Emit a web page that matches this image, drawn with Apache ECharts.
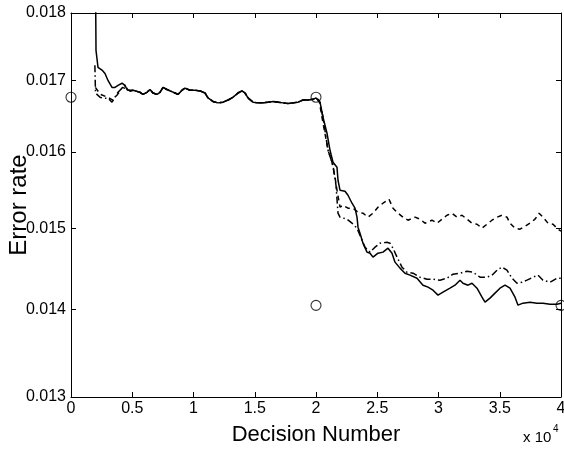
<!DOCTYPE html>
<html>
<head>
<meta charset="utf-8">
<script src="https://cdn.jsdelivr.net/npm/echarts@6/dist/echarts.min.js"></script>
<style>
  html, body { margin: 0; padding: 0; background: #fff; }
  #chart { width: 564px; height: 450px; }
</style>
</head>
<body>
<div id="chart"></div>
<script>
// Tick values
const xTicks = [0, 5000, 10000, 15000, 20000, 25000, 30000, 35000, 40000];
const yTicks = [0.013, 0.014, 0.015, 0.016, 0.017, 0.018];

// Shared stretch where all three estimators coincide: [decision number, error rate]
const plateau = [
  [4816, 0.01685], [5061, 0.01686], [5633, 0.01683], [5878, 0.01680], [6204, 0.01683],
  [6449, 0.01687], [6694, 0.01682], [7020, 0.01680], [7265, 0.01683], [7510, 0.01690],
  [7837, 0.01687], [8082, 0.01685], [8490, 0.01682], [8735, 0.01680], [9061, 0.01686],
  [9306, 0.01689], [9714, 0.01686], [10122, 0.01686], [10531, 0.01685], [10939, 0.01682],
  [11184, 0.01675], [11592, 0.01670], [12000, 0.01668], [12408, 0.01669], [12816, 0.01672],
  [13224, 0.01676], [13633, 0.01682], [13959, 0.01685], [14204, 0.01682], [14449, 0.01675],
  [14857, 0.01669], [15265, 0.01668], [15673, 0.01668], [16082, 0.01669], [16490, 0.01670],
  [16898, 0.01669], [17306, 0.01668], [17714, 0.01667], [18122, 0.01668], [18531, 0.01669],
  [18939, 0.01672], [19347, 0.01672], [19755, 0.01673], [20000, 0.01675]
];

// Solid curve
const solidStart = [
  [1950, 0.0200], [2041, 0.01744], [2204, 0.01719], [2531, 0.01715], [2776, 0.01710],
  [3020, 0.01700], [3347, 0.01690], [3592, 0.01690], [3837, 0.01693], [4163, 0.01696],
  [4408, 0.01693], [4571, 0.01687]
];
const solidEnd = [
  [20327, 0.01669], [20571, 0.016478], [20898, 0.016256], [21143, 0.016023], [21388, 0.015861],
  [21714, 0.015794], [21796, 0.015621], [21959, 0.015490], [22367, 0.015477], [22612, 0.015424],
  [22939, 0.015320], [23184, 0.015256], [23347, 0.015140], [23429, 0.015012], [23592, 0.014936],
  [23837, 0.014810], [24163, 0.014698], [24408, 0.014685], [24653, 0.014636], [25061, 0.014685],
  [25469, 0.014698], [25878, 0.014747], [26204, 0.014685], [26449, 0.014574], [26857, 0.014500],
  [27265, 0.014438], [27673, 0.014414], [28245, 0.014377], [28735, 0.014292], [29143, 0.014268],
  [29551, 0.014232], [29959, 0.014172], [30367, 0.014208], [30939, 0.014256], [31347, 0.014292],
  [31755, 0.014353], [32000, 0.014316], [32408, 0.014292], [32735, 0.014316], [33143, 0.014256],
  [33551, 0.014148], [33796, 0.014088], [34204, 0.014136], [34612, 0.014196], [35020, 0.014256],
  [35429, 0.014292], [35837, 0.014256], [36245, 0.014148], [36490, 0.014052], [36898, 0.014076],
  [37469, 0.014088], [38041, 0.014076], [38531, 0.014076], [39102, 0.014064], [39673, 0.014064],
  [40000, 0.014076]
];

// Dashed curve
const dashedStart = [
  [1990, 0.01690], [2400, 0.01680], [3000, 0.01676], [3400, 0.01672], [3800, 0.01680],
  [4200, 0.01690], [4500, 0.01688]
];
const dashedEnd = [
  [20245, 0.01672], [20490, 0.016478], [20980, 0.016023], [21306, 0.015861], [21551, 0.015661],
  [21714, 0.015490], [21959, 0.015269], [22204, 0.015294], [22612, 0.015256], [23020, 0.015256],
  [23429, 0.015204], [23837, 0.015191], [24245, 0.015140], [24653, 0.015191], [25061, 0.015269],
  [25469, 0.015320], [25959, 0.015372], [26286, 0.015256], [26694, 0.015191], [27102, 0.015140],
  [27510, 0.015101], [28082, 0.015140], [28490, 0.015114], [28898, 0.015063], [29469, 0.015101],
  [29878, 0.015063], [30286, 0.015114], [30694, 0.015165], [31102, 0.015191], [31510, 0.015140],
  [31918, 0.015165], [32327, 0.015114], [32735, 0.015063], [33143, 0.015050], [33551, 0.014999],
  [33959, 0.015050], [34367, 0.015101], [34776, 0.015140], [35184, 0.015165], [35592, 0.015140],
  [35837, 0.015063], [36245, 0.014999], [36653, 0.014987], [37061, 0.015025], [37469, 0.015063],
  [37878, 0.015114], [38204, 0.015191], [38531, 0.015140], [38939, 0.015063], [39347, 0.015050],
  [39755, 0.014987], [40000, 0.014961]
];

// Dash-dot curve
const dashDotStart = [
  [1950, 0.01722], [2000, 0.01682], [2367, 0.01676], [2612, 0.016746], [3020, 0.016746],
  [3347, 0.016689], [3592, 0.01676], [3837, 0.016831], [4163, 0.016888], [4408, 0.016931],
  [4653, 0.016859]
];
const dashDotEnd = [
  [20327, 0.01669], [20571, 0.016478], [20980, 0.016023], [21388, 0.015821], [21633, 0.015555],
  [21796, 0.015191], [21959, 0.015140], [22531, 0.015114], [22939, 0.015063], [23347, 0.014999],
  [23755, 0.014848], [24000, 0.014760], [24408, 0.014698], [24816, 0.014760], [25224, 0.014810],
  [25796, 0.014822], [26041, 0.014810], [26286, 0.014747], [26612, 0.014636], [27020, 0.014512],
  [27429, 0.014450], [27918, 0.014438], [28490, 0.014389], [29061, 0.014365], [29551, 0.014365],
  [30122, 0.014353], [30694, 0.014377], [31184, 0.014426], [31755, 0.014438], [32327, 0.014463],
  [32816, 0.014450], [33388, 0.014389], [33959, 0.014389], [34367, 0.014414], [34776, 0.014475],
  [35184, 0.014512], [35592, 0.014475], [36000, 0.014377], [36408, 0.014316], [36816, 0.014328],
  [37224, 0.014353], [37714, 0.014389], [38122, 0.014414], [38531, 0.014353], [39102, 0.014328],
  [39673, 0.014377], [40000, 0.014377]
];

// Marked reference points (open circles)
const markers = [[0, 0.01676], [20000, 0.01676], [20000, 0.01405], [40000, 0.01405]];

const FONT = 'Liberation Sans, Arial, Helvetica, sans-serif';
const INK = '#000';

const chart = echarts.init(document.getElementById('chart'), null, { renderer: 'canvas' });

const boxAxisLine = { show: true, onZero: false, lineStyle: { color: INK, width: 1 } };
const innerTick = { show: true, inside: true, length: 5, lineStyle: { color: INK, width: 1 } };

chart.setOption({
  animation: false,
  backgroundColor: '#fff',
  grid: { left: 71, right: 3, top: 13, bottom: 53, containLabel: false, outerBoundsMode: 'none' },
  xAxis: [
    {
      type: 'value', min: 0, max: 40000, interval: 5000, position: 'bottom',
      axisLine: boxAxisLine, axisTick: innerTick, splitLine: { show: false },
      axisLabel: {
        color: INK, fontFamily: FONT, fontSize: 16, margin: 4,
        formatter: v => String(v / 10000)
      },
      name: 'Decision Number', nameLocation: 'middle', nameGap: 27, nameMoveOverlap: false,
      nameTextStyle: { color: INK, fontFamily: FONT, fontSize: 22 }
    },
    {
      type: 'value', min: 0, max: 40000, interval: 5000, position: 'top',
      axisLine: boxAxisLine, axisTick: innerTick, splitLine: { show: false },
      axisLabel: { show: false }
    }
  ],
  yAxis: [
    {
      type: 'log', logBase: 10, min: 0.013, max: 0.018, position: 'left',
      axisLine: boxAxisLine,
      axisTick: Object.assign({ customValues: yTicks }, innerTick),
      splitLine: { show: false }, minorTick: { show: false },
      axisLabel: {
        customValues: yTicks, color: INK, fontFamily: FONT, fontSize: 16, margin: 5,
        formatter: v => Number(v).toFixed(3)
      },
      name: 'Error rate', nameLocation: 'middle', nameGap: 40, nameRotate: 90, nameMoveOverlap: false,
      nameTextStyle: { color: INK, fontFamily: FONT, fontSize: 24 }
    },
    {
      type: 'log', logBase: 10, min: 0.013, max: 0.018, position: 'right',
      axisLine: boxAxisLine,
      axisTick: Object.assign({ customValues: yTicks }, innerTick),
      splitLine: { show: false }, minorTick: { show: false },
      axisLabel: { show: false, customValues: yTicks }
    }
  ],
  graphic: [
    { type: 'text', left: 523, top: 430, style: { text: 'x 10', fill: INK, font: '15px ' + FONT } },
    { type: 'text', left: 553, top: 424, style: { text: '4', fill: INK, font: '10px ' + FONT } }
  ],
  series: [
    {
      name: 'dashed', type: 'line', showSymbol: false, symbol: 'none', clip: true,
      data: dashedStart.concat(plateau, dashedEnd),
      lineStyle: { color: INK, width: 1.5, type: [5, 4] }
    },
    {
      name: 'dashdot', type: 'line', showSymbol: false, symbol: 'none', clip: true,
      data: dashDotStart.concat(plateau, dashDotEnd),
      lineStyle: { color: INK, width: 1.5, type: [7, 3, 1.5, 3] }
    },
    {
      name: 'solid', type: 'line', showSymbol: false, symbol: 'none', clip: true,
      data: solidStart.concat(plateau, solidEnd),
      lineStyle: { color: INK, width: 1.5 }
    },
    {
      name: 'markers', type: 'scatter', clip: false, symbol: 'circle', symbolSize: 10,
      data: markers, z: 5,
      itemStyle: { color: 'rgba(0,0,0,0)', borderColor: INK, borderWidth: 1.1 }
    }
  ]
});
</script>
</body>
</html>
